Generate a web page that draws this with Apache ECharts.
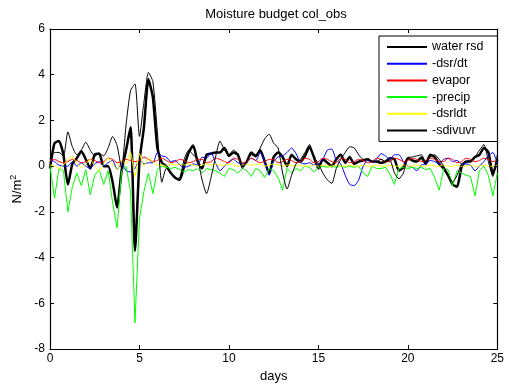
<!DOCTYPE html>
<html>
<head>
<meta charset="utf-8">
<script src="https://cdn.jsdelivr.net/npm/echarts@6/dist/echarts.min.js"></script>
<style>
  html, body { margin: 0; padding: 0; background: #fff; }
  #chart { width: 507px; height: 388px; }
</style>
</head>
<body>
<div id="chart"></div>
<script>
// Column moisture budget terms, sampled four times per day over 25 days
const stepsPerDay = 4;
const nDays = 25;

const waterRsd = [
  -0.1, 1.0, 1.1, 0.5, -0.8, 0.1, 0.35, 0.65, 0.3, -0.1,
  0.5, 0.55, 0.0, 0.0, -0.7, -1.8, -0.2, 0.7, 1.7, -3.7,
  0.2, 1.7, 3.8, 3.0, 0.8, 0.15, 0.0, -0.3, -0.5, -0.6,
  0.0, 0.6, 0.9, 0.2, -0.1, 0.5, 0.55, 0.6, 0.6, 0.8,
  0.45, 0.6, 0.5, 0.0, 0.2, 0.6, 0.45, 0.7, 0.2, -0.3,
  0.4, 0.6, 0.4, 0.0, 0.5, 0.3, 0.2, 0.45, 0.85, 0.4,
  -0.1, 0.3, 0.15, 0.0, 0.3, 0.5, 0.15, 0.4, 0.1, 0.2,
  0.25, 0.3, 0.2, 0.2, 0.15, 0.2, 0.35, 0.3, -0.2, -0.05,
  0.35, 0.25, 0.2, 0.38, 0.1, 0.5, 0.4, 0.1, -0.1, -0.4,
  -0.8, -0.9, -0.05, 0.2, 0.2, 0.4, 0.5, 0.8, 0.6, -0.35,
  0.3
];

const dsrDt = [
  0.3, 0.2, 0.05, 0.0, 0.0, 0.2, 0.0, 0.15, 0.0, -0.1,
  0.1, 0.2, 0.0, 0.15, 0.25, -0.15, 0.15, -0.2, -0.25, -0.1,
  0.3, 0.1, 0.15, 0.15, 0.6, 0.45, 0.4, 0.2, 0.25, 0.05,
  -0.05, 0.0, 0.1, 0.05, 0.4, 0.35, 0.6, 0.15, -0.2, 0.0,
  0.2, 0.3, 0.15, 0.1, 0.2, 0.35, 0.25, 0.6, 0.15, -0.4,
  0.2, 0.4, 0.45, 0.6, 0.8, 0.55, 0.15, 0.1, 0.15, 0.05,
  0.1, 0.3, 0.7, 0.75, 0.25, 0.1, -0.4, -0.8, -0.85, -0.6,
  0.0, 0.25, 0.2, 0.3, 0.55, 0.45, 0.3, 0.5, 0.5, 0.2,
  0.0, -0.05, -0.2, 0.05, 0.1, 0.25, 0.2, 0.1, 0.3, 0.35,
  0.2, 0.25, 0.1, 0.1, 0.05, -0.2, 0.0, 0.2, 0.45, 0.6,
  0.1
];

const evapor = [
  0.25, 0.3, 0.2, 0.15, 0.2, 0.3, 0.25, 0.15, 0.2, 0.3,
  0.25, 0.15, 0.2, 0.35, 0.3, 0.15, 0.2, 0.3, 0.25, 0.2,
  0.25, 0.4, 0.3, 0.2, 0.25, 0.35, 0.25, 0.15, 0.2, 0.3,
  0.25, 0.15, 0.2, 0.3, 0.3, 0.15, 0.2, 0.35, 0.3, 0.2,
  0.15, 0.35, 0.3, 0.15, 0.2, 0.35, 0.25, 0.15, 0.2, 0.3,
  0.3, 0.15, 0.2, 0.3, 0.25, 0.15, 0.2, 0.35, 0.3, 0.15,
  0.2, 0.35, 0.3, 0.2, 0.15, 0.35, 0.3, 0.15, 0.2, 0.3,
  0.25, 0.15, 0.2, 0.35, 0.3, 0.2, 0.2, 0.35, 0.3, 0.2,
  0.25, 0.35, 0.3, 0.2, 0.25, 0.35, 0.3, 0.2, 0.2, 0.35,
  0.3, 0.15, 0.2, 0.35, 0.3, 0.2, 0.25, 0.35, 0.3, 0.2,
  0.25
];

const precip = [
  0.0, -1.4, -0.1, -0.2, -2.0, -0.9, -0.3, -0.85, -0.15, -1.25,
  -0.4, -0.15, -0.8, -0.2, -1.6, -2.7, -0.2, 0.0, -1.1, -6.85,
  -2.3, -1.1, -0.3, -1.2, -0.15, 0.0, -0.05, -0.1, -0.05, -0.15,
  -0.25, -0.15, -0.2, -0.1, -0.3, -0.1, -0.15, -0.2, -0.3, -0.45,
  -0.1, -0.15, -0.3, -0.1, -0.2, -0.45, -0.1, -0.2, -0.5, -0.1,
  -0.2, -0.5, -1.05, -0.1, -0.3, -0.1, -0.2, 0.0, -0.05, -0.25,
  -0.05, 0.0, -0.05, 0.0, -0.05, 0.0, -0.05, 0.0, -0.05, 0.0,
  -0.3, -0.45, 0.0, -0.1, -0.1, -0.05, -0.35, -0.8, -0.1, -0.05,
  -0.1, -0.05, -0.1, -0.05, -0.15, -0.1, -0.5, -1.05, -0.1, -0.15,
  -0.85, -0.2, -0.3, -0.4, -0.45, -1.3, -0.2, 0.0, -0.4, -1.3,
  -0.3
];

const dsrlDt = [
  0.05, 0.0, -0.1, 0.05, 0.3, 0.4, 0.1, -0.05, 0.1, 0.3,
  0.0, -0.2, 0.1, 0.35, 0.1, -0.15, 0.25, 0.1, 0.6, -0.45,
  0.55, 0.0, 0.35, 0.2, 0.05, 0.05, 0.0, 0.1, 0.05, 0.1,
  0.05, 0.1, 0.05, 0.0, 0.05, 0.1, 0.05, 0.1, 0.05, 0.05,
  0.1, 0.05, 0.0, 0.05, 0.1, 0.05, 0.05, 0.1, 0.0, 0.05,
  0.1, 0.05, 0.0, 0.05, 0.05, 0.0, 0.05, 0.0, 0.0, 0.05,
  0.0, 0.05, 0.0, 0.0, 0.05, 0.0, 0.0, 0.05, 0.0, 0.0,
  0.05, 0.0, 0.0, 0.05, 0.0, 0.0, 0.05, 0.0, 0.0, 0.05,
  0.0, 0.0, 0.05, 0.0, 0.0, 0.05, 0.0, 0.0, 0.05, 0.0,
  0.0, 0.05, 0.0, 0.0, 0.05, 0.0, 0.0, 0.05, 0.0, 0.0,
  0.05
];

const sdivuvr = [
  0.3, 0.6, 0.6, 0.45, 1.5, 0.85, 0.5, 0.7, 1.05, 0.7,
  0.45, 0.55, 0.45, 0.8, 1.3, 0.9, -0.1, 1.8, 3.3, 3.6,
  1.3, 2.8, 4.1, 3.7, 1.5, -0.7, -0.1, -0.3, -0.55, -0.5,
  0.3, 0.7, 0.5, 0.3, -0.6, -1.2, -0.5, 0.4, 1.1, 0.7,
  0.5, 0.7, 0.55, -0.1, 0.2, 0.5, 0.4, 0.8, 1.2, 1.4,
  1.0, 0.8, -0.3, -1.0, -0.4, 0.1, 0.3, 0.6, 0.95, 0.4,
  0.1, -0.3, -0.6, -0.75, -0.1, 0.3, 0.6, 0.85, 0.8, 0.5,
  0.3, 0.3, 0.2, 0.2, 0.3, 0.2, 0.25, -0.3, -0.55, -0.3,
  0.38, 0.4, 0.45, 0.5, 0.2, 0.4, 0.5, 0.3, 0.0, -0.4,
  -0.7, -0.4, 0.1, 0.2, 0.25, 0.4, 0.7, 0.95, 0.2, -0.45,
  0.5
];

const seriesNames = ['water rsd', '-dsr/dt', 'evapor', '-precip', '-dsrldt', '-sdivuvr'];
const xTicks = [0, 5, 10, 15, 20, 25];
const yTicks = [-8, -6, -4, -2, 0, 2, 4, 6];

const days = waterRsd.map((_, i) => i / stepsPerDay);
const pairs = arr => arr.map((v, i) => [days[i], v]);

const FONT = '"Liberation Sans", Arial, Helvetica, sans-serif';

const chart = echarts.init(document.getElementById('chart'), null, { renderer: 'canvas' });

function lineSeries(name, data, color, width, smooth) {
  return {
    name, type: 'line', data: pairs(data),
    xAxisIndex: 0, yAxisIndex: 0,
    symbol: 'none', showSymbol: false, smooth: smooth,
    lineStyle: { color, width },
    itemStyle: { color },
    emphasis: { disabled: true },
    animation: false
  };
}

const baseAxisLine = { show: true, onZero: false, lineStyle: { color: '#000', width: 1.2 } };
const tickInside = { show: true, inside: true, length: 4, lineStyle: { color: '#000', width: 1 } };

chart.setOption({
  backgroundColor: '#fff',
  animation: false,
  title: {
    text: 'Moisture budget col_obs',
    left: 276, top: 8, textAlign: 'center', padding: 0,
    textStyle: { fontFamily: FONT, fontSize: 13, fontWeight: 'normal', color: '#000' }
  },
  grid: { left: 50, right: 5, top: 29, bottom: 37, containLabel: false },
  legend: {
    data: seriesNames,
    orient: 'vertical',
    left: 379, top: 36,
    padding: [4, 14, 4, 7],
    itemWidth: 40, itemHeight: 14, itemGap: 2.7,
    backgroundColor: '#fff',
    borderColor: '#000', borderWidth: 1,
    selectedMode: false,
    itemStyle: { opacity: 0, borderWidth: 0 },
    textStyle: { fontFamily: FONT, fontSize: 12.5, color: '#000', lineHeight: 14 }
  },
  xAxis: [
    {
      type: 'value', min: 0, max: nDays, interval: 5, position: 'bottom',
      name: 'days', nameLocation: 'middle', nameGap: 17,
      nameTextStyle: { fontFamily: FONT, fontSize: 13, color: '#000' },
      axisLine: baseAxisLine, axisTick: tickInside,
      axisLabel: {
        margin: 4, fontFamily: FONT, fontSize: 12, color: '#000',
        formatter: v => xTicks.includes(v) ? String(v) : ''
      },
      splitLine: { show: false }
    },
    {
      type: 'value', min: 0, max: nDays, interval: 5, position: 'top',
      axisLine: baseAxisLine, axisTick: tickInside,
      axisLabel: { show: false }, splitLine: { show: false }
    }
  ],
  yAxis: [
    {
      type: 'value', min: -8, max: 6, interval: 2, position: 'left',
      name: 'N/m{sup|2}', nameLocation: 'middle', nameGap: 23, nameRotate: 90,
      nameTextStyle: {
        fontFamily: FONT, fontSize: 13, color: '#000',
        rich: { sup: { fontFamily: FONT, fontSize: 9, color: '#000', verticalAlign: 'top', padding: [0, 0, 6, 0] } }
      },
      axisLine: baseAxisLine, axisTick: tickInside,
      axisLabel: {
        margin: 5, fontFamily: FONT, fontSize: 12, color: '#000',
        formatter: v => yTicks.includes(v) ? String(v) : ''
      },
      splitLine: { show: false }
    },
    {
      type: 'value', min: -8, max: 6, interval: 2, position: 'right',
      axisLine: baseAxisLine, axisTick: tickInside,
      axisLabel: { show: false }, splitLine: { show: false }
    }
  ],
  series: [
    lineSeries(seriesNames[0], waterRsd, '#000000', 2.5, 0.2),
    lineSeries(seriesNames[1], dsrDt, '#0000ff', 1, 0.2),
    lineSeries(seriesNames[2], evapor, '#ff0000', 1, 0.2),
    lineSeries(seriesNames[3], precip, '#00ff00', 1, false),
    lineSeries(seriesNames[4], dsrlDt, '#ffff00', 1, 0.2),
    lineSeries(seriesNames[5], sdivuvr, '#000000', 1, 0.2)
  ]
});
</script>
</body>
</html>
